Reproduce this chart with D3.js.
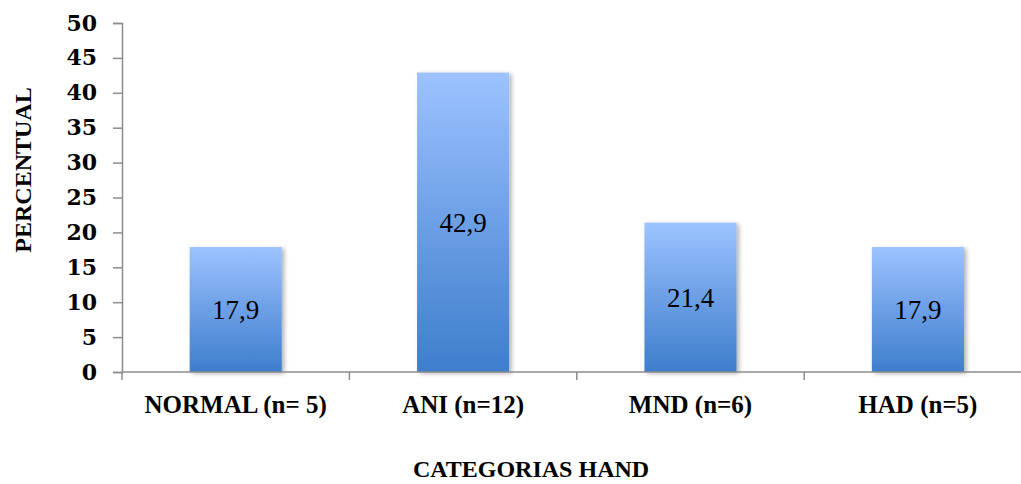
<!DOCTYPE html>
<html>
<head>
<meta charset="utf-8">
<script src="https://cdn.jsdelivr.net/npm/d3@7/dist/d3.min.js"></script>
<style>
  html, body { margin: 0; padding: 0; background: #fff; }
  svg { display: block; }
  text { font-family: "Liberation Serif", "Times New Roman", serif; fill: #000; }
</style>
</head>
<body>
<svg id="chart" width="1021" height="484"></svg>
<script>
// Percentage of patients per HAND category
const categories = ["NORMAL (n= 5)", "ANI (n=12)", "MND (n=6)", "HAD (n=5)"];
const values = [17.9, 42.9, 21.4, 17.9];
const valueLabels = ["17,9", "42,9", "21,4", "17,9"];
const yTicks = [0, 5, 10, 15, 20, 25, 30, 35, 40, 45, 50];
const yTitle = "PERCENTUAL";
const xTitle = "CATEGORIAS HAND";

const svg = d3.select("#chart");
const plotLeft = 122, plotRight = 1031.6, plotTop = 23, plotBottom = 372;
const axisColor = "#8c8c8c";

const x = d3.scaleBand()
  .domain(categories)
  .range([plotLeft, plotRight])
  .paddingInner(0.595)
  .paddingOuter(0.2975);

const y = d3.scaleLinear().domain([0, 50]).range([plotBottom, plotTop]);

const defs = svg.append("defs");
const grad = defs.append("linearGradient")
  .attr("id", "barFill")
  .attr("x1", 0).attr("y1", 0).attr("x2", 0).attr("y2", 1);
grad.append("stop").attr("offset", "0%").attr("stop-color", "#9dc3ff");
grad.append("stop").attr("offset", "50%").attr("stop-color", "#6c9fe6");
grad.append("stop").attr("offset", "100%").attr("stop-color", "#3e7ecc");

const shadow = defs.append("filter")
  .attr("id", "barShadow")
  .attr("x", "-20%").attr("y", "-20%").attr("width", "140%").attr("height", "140%");
shadow.append("feDropShadow")
  .attr("dx", 2.5).attr("dy", 1.5).attr("stdDeviation", 2)
  .attr("flood-color", "#000").attr("flood-opacity", 0.3);

// Bars
svg.append("g").selectAll("rect")
  .data(values)
  .join("rect")
  .attr("x", (d, i) => x(categories[i]))
  .attr("y", d => y(d))
  .attr("width", x.bandwidth())
  .attr("height", d => y(0) - y(d))
  .attr("fill", "url(#barFill)")
  .attr("filter", "url(#barShadow)");

// Value labels centred inside bars
svg.append("g").selectAll("text")
  .data(values)
  .join("text")
  .attr("x", (d, i) => x(categories[i]) + x.bandwidth() / 2)
  .attr("y", d => (y(d) + y(0)) / 2)
  .attr("dy", "0.35em")
  .attr("text-anchor", "middle")
  .style("font-family", '"Liberation Serif", serif')
  .style("font-size", "27px")
  .text((d, i) => valueLabels[i]);

// Y axis
const yAxis = svg.append("g")
  .attr("transform", `translate(${plotLeft},0)`)
  .call(d3.axisLeft(y).tickValues(yTicks).tickSize(9).tickPadding(16).tickFormat(d3.format("d")));
yAxis.select(".domain").attr("stroke", axisColor).attr("stroke-width", 1.5);
yAxis.selectAll(".tick line").attr("stroke", axisColor).attr("stroke-width", 1.5);
yAxis.selectAll(".tick text")
  .style("font-family", '"DejaVu Serif", serif')
  .style("font-size", "22px")
  .style("font-weight", "bold")
  .attr("fill", "#000");

// X axis baseline and category separators
const xg = svg.append("g");
xg.append("line")
  .attr("x1", plotLeft).attr("x2", 1021)
  .attr("y1", y(0)).attr("y2", y(0))
  .attr("stroke", axisColor).attr("stroke-width", 1.5);
const seps = categories.map(c => x(c) - x.step() * x.paddingInner() / 2);
seps[0] = plotLeft;
xg.selectAll("line.sep")
  .data(seps)
  .join("line")
  .attr("class", "sep")
  .attr("x1", d => d).attr("x2", d => d)
  .attr("y1", y(0)).attr("y2", y(0) + 8)
  .attr("stroke", axisColor).attr("stroke-width", 1.5);

xg.selectAll("text")
  .data(categories)
  .join("text")
  .attr("x", d => x(d) + x.bandwidth() / 2)
  .attr("y", 413)
  .attr("text-anchor", "middle")
  .style("font-size", "25px")
  .style("font-weight", "bold")
  .text(d => d);

// Axis titles
svg.append("text")
  .attr("transform", "translate(31,170) rotate(-90)")
  .attr("text-anchor", "middle")
  .style("font-size", "24px")
  .style("font-weight", "bold")
  .text(yTitle);

svg.append("text")
  .attr("x", 531)
  .attr("y", 477)
  .attr("text-anchor", "middle")
  .style("font-size", "24px")
  .style("font-weight", "bold")
  .text(xTitle);
</script>
</body>
</html>
